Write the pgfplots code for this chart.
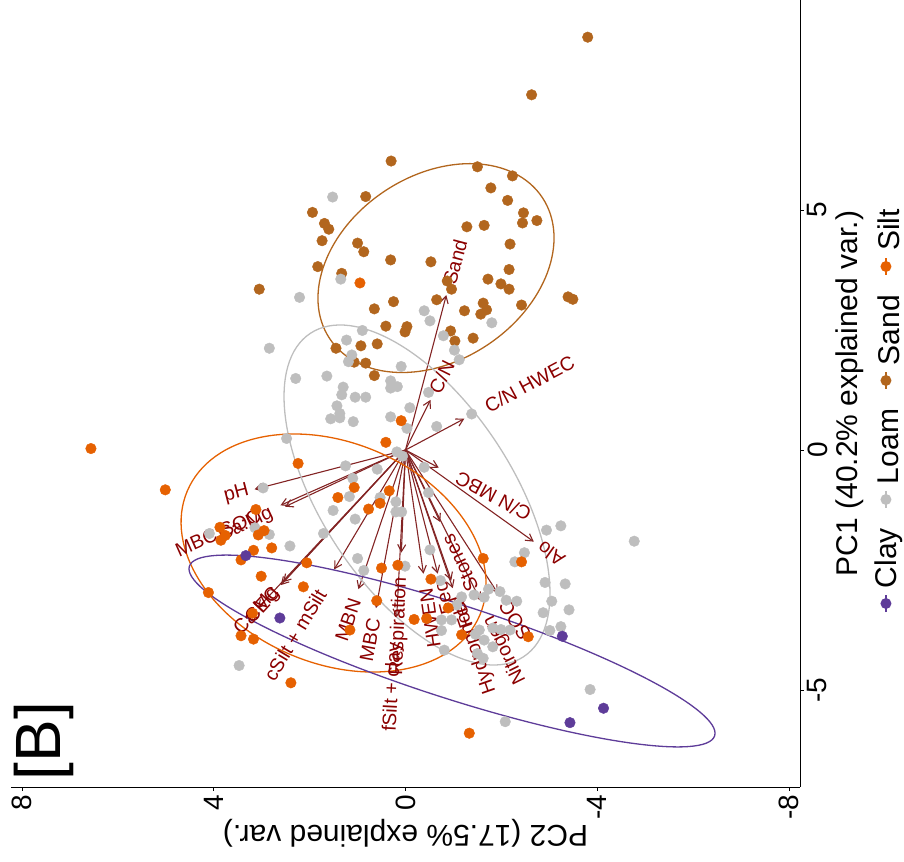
\documentclass[border=0pt]{standalone}
\usepackage{fontspec}
\setmainfont{Liberation Sans}
\usepackage{pgfplots}
\usepackage{pgfplotstable}
\pgfplotsset{compat=1.18}
\usetikzlibrary{arrows.meta}

\definecolor{clay}{HTML}{5E3C99}
\definecolor{loam}{HTML}{BEBEBE}
\definecolor{sand}{HTML}{B2661E}
\definecolor{silt}{HTML}{E66101}
\definecolor{vecred}{HTML}{832424}
\definecolor{labred}{HTML}{8B0000}

% scores: PC2 (horizontal, reversed) and PC1 (vertical)
\pgfplotstableread{
PC2 PC1
3.05 3.35
-2.63 7.40
0.30 6.02
-1.50 5.90
-2.23 5.71
-1.78 5.46
0.83 5.28
-2.13 5.20
1.94 4.95
-2.46 4.94
1.69 4.72
1.60 4.60
-2.44 4.73
-2.74 4.78
-1.28 4.65
-1.64 4.68
1.74 4.36
1.00 4.31
0.87 4.13
-2.18 4.29
0.31 3.96
-0.53 3.92
1.83 3.82
-2.16 3.76
1.33 3.68
-1.72 3.56
-1.99 3.46
-2.16 3.35
-0.96 3.35
-0.87 3.52
-3.39 3.19
-3.49 3.14
-3.80 8.60
0.25 3.09
-0.65 3.13
0.65 2.94
-1.23 2.90
-1.62 3.06
-1.69 2.92
-1.57 2.83
-2.42 3.02
0.41 2.58
-0.03 2.57
0.01 2.46
-0.94 2.48
-1.03 2.27
-1.41 2.33
0.93 2.17
0.59 2.21
1.45 2.12
1.07 1.83
0.83 1.81
0.65 1.55
}\sand

\pgfplotstableread{
PC2 PC1
2.21 3.18
1.52 5.27
1.35 3.56
2.84 2.12
2.29 1.49
2.48 0.24
2.97 -0.79
3.14 -1.62
2.84 -1.76
4.09 -1.74
2.41 -2.00
3.47 -4.49
-0.39 2.90
-0.51 2.69
-1.80 2.65
-0.79 2.38
-1.02 2.08
-1.12 1.88
0.90 2.49
1.23 2.29
1.12 1.98
1.19 1.84
0.09 1.74
1.64 1.54
0.31 1.44
0.31 1.29
0.17 1.32
1.30 1.31
1.33 1.15
1.05 1.10
0.83 1.10
-0.48 1.20
1.43 0.92
1.37 0.76
1.37 0.67
1.56 0.65
1.09 0.59
0.31 0.69
-0.09 0.88
-1.38 0.75
-0.65 0.49
-0.03 0.45
0.18 -0.04
0.06 -0.13
1.25 -0.33
0.59 -0.40
-0.39 -0.36
1.10 -0.59
-0.48 -0.89
1.17 -0.97
0.53 -0.99
0.20 -1.08
1.51 -1.26
0.20 -1.29
0.08 -1.29
1.05 -1.44
1.71 -1.74
1.00 -2.26
0.01 -2.42
-0.51 -2.08
-2.48 -2.14
-2.28 -2.33
-2.94 -1.67
-3.24 -1.58
-4.77 -1.90
0.87 -2.51
-0.73 -2.72
-1.17 -3.06
-1.07 -3.23
-1.43 -3.02
-1.64 -3.07
-1.73 -2.90
-1.97 -2.95
-2.10 -3.13
-2.32 -3.15
-0.75 -3.54
-0.96 -3.54
-0.75 -3.76
-0.81 -4.17
-1.54 -3.75
-1.46 -3.84
-1.64 -3.96
-1.82 -4.10
-1.82 -3.71
-1.99 -3.74
-2.18 -3.75
-1.50 -4.24
-1.62 -4.34
-2.91 -2.76
-3.33 -2.79
-3.05 -3.15
-3.41 -3.33
-2.87 -3.39
-3.01 -3.76
-3.24 -3.68
-2.08 -5.66
-3.85 -4.99
}\loam

\pgfplotstableread{
PC2 PC1
0.95 3.48
6.56 0.03
2.24 -0.28
5.01 -0.83
3.12 -1.24
3.07 -1.77
2.95 -1.68
3.85 -1.88
3.76 -1.78
3.87 -1.61
2.79 -2.04
3.17 -2.09
3.43 -2.29
3.01 -2.63
4.11 -2.97
3.19 -3.40
3.43 -3.87
3.17 -3.94
2.39 -4.85
0.09 0.61
0.41 0.16
1.07 -0.78
0.34 -0.85
1.41 -0.99
0.53 -1.11
0.77 -1.23
2.06 -2.35
0.50 -2.46
0.16 -2.40
-1.62 -2.26
-2.42 -2.33
2.13 -2.85
0.60 -3.14
1.16 -3.75
-0.18 -3.53
-0.44 -3.51
-0.53 -2.69
-0.89 -3.29
-1.17 -3.85
-2.56 -3.89
-1.33 -5.90
}\silt

\pgfplotstableread{
PC2 PC1
3.33 -2.20
2.62 -3.50
-3.27 -3.88
-4.13 -5.38
-3.43 -5.68
}\clay

% variable loadings: arrow start (x0,y0) and tip (PC2,PC1)
\pgfplotstableread{
x0 y0 PC2 PC1
0 0 -0.851 3.227
0 0 -0.521 1.044
0 0 -1.226 0.652
0 0 -0.694 -0.369
0 0 -2.676 -1.910
0 0 3.147 -0.819
0 0 2.607 -1.152
0 0 2.513 -1.181
0 0 3.080 -3.292
0 0 2.601 -2.815
0 0 2.555 -2.756
0 0 1.487 -2.488
0 0 0.982 -2.900
0 0 0.615 -3.294
0 0 0.184 -3.481
0 0 0.086 -2.138
0 0 -0.375 -2.577
0 0 -0.672 -2.575
0 0 -0.724 -1.500
0 0 -0.986 -2.879
0 0 -0.955 -2.719
0 0 -1.562 -3.135
0 0 -1.925 -2.985
}\loadings

\newcommand{\varlab}[4]{\node[labred, rotate=#3, inner sep=0pt,
  font=\fontsize{19.5}{19.5}\selectfont] at (axis cs:#1,#2) {#4};}
% legend key: colour, PC1 of key centre, PC1 of text centre, group name
\newcommand{\legkey}[4]{%
  \draw[#1, line width=1.3pt] (axis cs:-10.02,#2-0.177) -- (axis cs:-10.02,#2+0.177);
  \fill[#1] (axis cs:-10.02,#2) circle[radius=5.5pt];
  \node[rotate=90, inner sep=0pt, font=\fontsize{30}{30}\selectfont]
    at (axis cs:-10.07,#3) {#4};}

\begin{document}
\begin{tikzpicture}
\begin{axis}[
  scale only axis,
  width=789pt, height=787pt,
  xmin=-8.227, xmax=8.227,
  ymin=-7.02, ymax=9.375,
  x dir=reverse,
  clip=false,
  axis x line*=bottom,
  axis y line*=right,
  axis line style={-, black, line width=0.8pt},
  every outer x axis line/.append style={-},
  every outer y axis line/.append style={-},
  tick align=outside,
  major tick length=4pt,
  tick style={black, line width=0.8pt},
  xtick={-8,-4,0,4,8},
  xticklabels={-8,-4,0,4,8},
  ytick={-5,0,5},
  yticklabels={-5,0,5},
  xticklabel style={rotate=90, anchor=east, font=\fontsize{28}{28}\selectfont},
  yticklabel style={rotate=90, anchor=north, font=\fontsize{28}{28}\selectfont},
  every axis x label/.style={at={(axis description cs:0.5,-0.0584)},
    anchor=center, rotate=180, font=\fontsize{30}{30}\selectfont},
  every axis y label/.style={at={(axis description cs:1.063,0.5)},
    anchor=center, rotate=90, font=\fontsize{30}{30}\selectfont},
  xlabel={PC2 (17.5\% explained var.)},
  ylabel={PC1 (40.2\% explained var.)},
]
% variable vectors
\addplot[vecred, line width=1.1pt, -{Straight Barb[length=7pt, width=8pt]},
  quiver={u=\thisrow{PC2}, v=\thisrow{PC1}}]
  table[x=x0, y=y0] {\loadings};

% sample scores
\addplot[only marks, mark=*, mark size=5.3pt, sand] table[x=PC2, y=PC1] {\sand};
\addplot[only marks, mark=*, mark size=5.3pt, loam] table[x=PC2, y=PC1] {\loam};
\addplot[only marks, mark=*, mark size=5.3pt, silt] table[x=PC2, y=PC1] {\silt};
\addplot[only marks, mark=*, mark size=5.3pt, clay] table[x=PC2, y=PC1] {\clay};

% concentration ellipses
\draw[sand, line width=1.3pt, rotate around={33.5:(axis cs:-0.636,3.79)}]
  (axis cs:-0.636,3.79) ellipse [x radius=127.6pt, y radius=92.5pt];
\draw[loam, line width=1.3pt, rotate around={-56.6:(axis cs:-0.24,-0.9375)}]
  (axis cs:-0.24,-0.9375) ellipse [x radius=193.7pt, y radius=95.2pt];
\draw[silt, line width=1.3pt, rotate around={-23:(axis cs:1.50,-2.146)}]
  (axis cs:1.50,-2.146) ellipse [x radius=158.9pt, y radius=110.3pt];
\draw[clay, line width=1.3pt, rotate around={-17.9:(axis cs:-0.97,-4.1875)}]
  (axis cs:-0.97,-4.1875) ellipse [x radius=276pt, y radius=47pt];

% variable names
\varlab{-1.032}{3.917}{75.25}{Sand}
\varlab{-0.755}{1.515}{63.5}{C/N}
\varlab{-2.586}{1.375}{28.0}{C/N HWEC}
\varlab{-1.831}{-0.973}{152.0}{C/N MBC}
\varlab{-3.034}{-2.167}{144.4}{Alo}
\varlab{3.525}{-0.917}{14.6}{pH}
\varlab{3.910}{-1.729}{23.9}{MBC:SOC}
\varlab{3.326}{-1.5625}{25.2}{Ca:Mg}
\varlab{3.347}{-3.577}{46.9}{Ca}
\varlab{2.888}{-3.125}{47.3}{Mg}
\varlab{2.993}{-3.229}{47.2}{CEC}
\varlab{2.304}{-3.854}{59.1}{cSilt + mSilt}
\varlab{1.199}{-3.542}{71.3}{MBN}
\varlab{0.740}{-3.958}{79.4}{MBC}
\varlab{0.261}{-4.9375}{87.0}{fSilt + clay}
\varlab{0.136}{-3.677}{87.7}{Respiration}
\varlab{-0.511}{-3.5}{98.3}{HWEN}
\varlab{-0.803}{-3.083}{104.6}{Feo}
\varlab{-1.137}{-2.354}{115.7}{Stones}
\varlab{-1.157}{-3.375}{108.9}{Fed}
\varlab{-1.449}{-4.125}{109.3}{Hydrophob}
\varlab{-2.075}{-4.167}{116.5}{Nitrogen}
\varlab{-2.284}{-3.542}{122.8}{SOC}

% panel tag
\node[rotate=90, inner sep=0pt, font=\fontsize{64}{64}\selectfont]
  at (axis cs:7.54,-6.06) {[B]};

% legend, stacked along the PC1 direction
\legkey{clay}{-3.198}{-2.25}{Clay}
\legkey{loam}{-1.031}{0.073}{Loam}
\legkey{sand}{1.448}{2.5}{Sand}
\legkey{silt}{3.823}{4.583}{Silt}

\coordinate (bbnw) at (axis cs:8.457,9.375);
\coordinate (bbse) at (axis cs:-10.396,-8.5625);
\end{axis}
\pgfresetboundingbox
\useasboundingbox (bbnw) rectangle (bbse);
\end{tikzpicture}
\end{document}
